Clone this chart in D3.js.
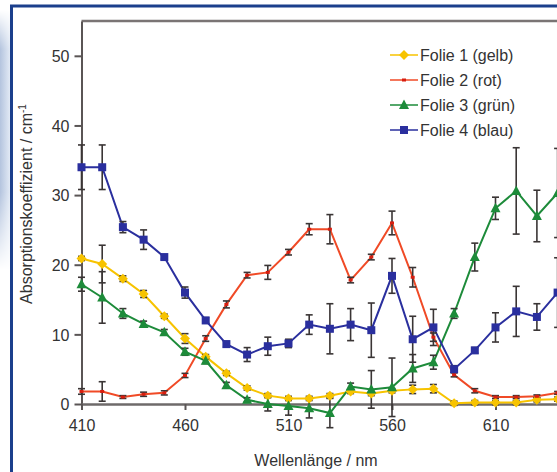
<!DOCTYPE html>
<html><head><meta charset="utf-8">
<script src="https://cdn.jsdelivr.net/npm/d3@7"></script>
<style>html,body{margin:0;padding:0;background:#fff;overflow:hidden}svg{display:block}</style>
</head><body>
<svg id="c" width="557" height="472"></svg>
<script>
const wavelengths = [410,420,430,440,450,460,470,480,490,500,510,520,530,540,550,560,570,580,590,600,610,620,630,640];
const folie1 = [20.9,20.1,18.0,15.8,12.6,9.4,6.8,4.4,2.3,1.2,0.8,0.8,1.2,1.8,1.5,1.9,2.1,2.2,0.1,0.2,0.2,0.2,0.6,0.7];
const folie1Err = [0.3,2.7,0.4,0.5,0.3,0.7,0.3,0.3,0.3,0.3,0.3,0.3,0.3,0.3,0.3,0.3,0.6,0.6,0.3,0.3,0.3,0.3,0.3,0.3];
const folie2 = [1.8,1.8,1.0,1.4,1.6,4.1,9.4,14.3,18.5,18.9,21.8,25.1,25.1,17.8,21.1,26.0,18.2,9.6,4.2,1.9,1.0,1.0,1.1,1.6];
const folie2Err = [0.4,1.4,0.2,0.3,0.3,0.3,0.4,0.5,0.4,1.0,0.4,0.8,2.1,0.4,0.4,1.7,1.4,0.6,0.3,0.3,0.2,0.2,0.2,0.2];
const folie3 = [17.2,15.3,13.0,11.5,10.3,7.5,6.2,2.7,0.6,0.0,-0.3,-0.6,-1.3,2.5,2.1,2.4,5.1,6.0,13.0,21.1,28.1,30.6,27.0,30.3];
const folie3Err = [1.0,3.7,0.7,0.4,0.4,0.5,0.4,0.4,0.3,1.0,1.3,1.4,2.1,0.5,2.7,4.2,2.0,1.0,0.7,2.0,1.6,6.2,3.7,6.4];
const folie4 = [34.0,34.0,25.4,23.6,21.1,16.0,12.0,8.6,7.1,8.3,8.7,11.4,10.8,11.4,10.6,18.4,9.3,11.0,5.0,7.7,11.0,13.3,12.5,16.0];
const folie4Err = [3.2,3.2,0.8,1.4,0.3,0.8,0.4,0.4,1.0,1.3,0.6,1.4,3.6,2.3,3.9,2.5,3.3,2.6,0.5,0.4,2.1,3.6,1.9,5.0];
const seriesNames = ["Folie 1 (gelb)","Folie 2 (rot)","Folie 3 (grün)","Folie 4 (blau)"];
const xTicks = [410,460,510,560,610];
const yTicks = [0,10,20,30,40,50];

const series = [
  {name:seriesNames[0], vals:folie1, err:folie1Err, color:"#f7c300", marker:"diamond"},
  {name:seriesNames[1], vals:folie2, err:folie2Err, color:"#f04a26", marker:"dash"},
  {name:seriesNames[2], vals:folie3, err:folie3Err, color:"#1d8b3a", marker:"triangle"},
  {name:seriesNames[3], vals:folie4, err:folie4Err, color:"#2a2f9e", marker:"square"}
];

const svg = d3.select("#c");
const font = "'Liberation Sans', Arial, Helvetica, sans-serif";

// decoration: left pale shade and blue frame
const defs = svg.append("defs");
const g1 = defs.append("linearGradient").attr("id","shade").attr("x1",0).attr("x2",1).attr("y1",0).attr("y2",0);
g1.append("stop").attr("offset","0").attr("stop-color","#b4c4de");
g1.append("stop").attr("offset","1").attr("stop-color","#e6edf7");
const g2 = defs.append("linearGradient").attr("id","fadev").attr("x1",0).attr("x2",0).attr("y1",0).attr("y2",1);
g2.append("stop").attr("offset","0").attr("stop-color","#fff").attr("stop-opacity",0);
g2.append("stop").attr("offset","0.15").attr("stop-color","#fff").attr("stop-opacity",1);
g2.append("stop").attr("offset","0.7").attr("stop-color","#fff").attr("stop-opacity",1);
g2.append("stop").attr("offset","1").attr("stop-color","#fff").attr("stop-opacity",0);
const mask = defs.append("mask").attr("id","m");
mask.append("rect").attr("x",0).attr("y",10).attr("width",12).attr("height",260).attr("fill","url(#fadev)");
svg.append("rect").attr("x",0).attr("y",10).attr("width",11).attr("height",260).attr("fill","url(#shade)").attr("mask","url(#m)");
svg.append("path").attr("d","M11.5,472 L11.5,6 L557,6").attr("fill","none").attr("stroke","#1b3f8c").attr("stroke-width",3);

const x = d3.scaleLinear().domain([410,660]).range([81.5,599]);
const y = d3.scaleLinear().domain([0,55]).range([404,21]);

// top frame line
svg.append("line").attr("x1",81.5).attr("x2",557).attr("y1",y(55)).attr("y2",y(55)).attr("stroke","#7a7474").attr("stroke-width",2.5);

// y axis
const yAx = svg.append("g").attr("transform","translate(81.5,0)")
  .call(d3.axisLeft(y).tickValues(yTicks).tickSize(7).tickPadding(5).tickSizeOuter(0));
yAx.select(".domain").attr("stroke","#5a5555").attr("stroke-width",2);
yAx.selectAll(".tick line").attr("stroke","#5a5555").attr("stroke-width",2);
yAx.selectAll("text").attr("font-family",font).attr("font-size",16).attr("fill","#333").attr("dy","0.36em");

// x axis
const xAx = svg.append("g").attr("transform","translate(0,404)")
  .call(d3.axisBottom(x).tickValues(xTicks).tickSize(6).tickPadding(10).tickSizeOuter(0).tickFormat(d3.format("d")));
xAx.select(".domain").attr("stroke","#6e6a6a").attr("stroke-width",2.5);
xAx.selectAll(".tick line").attr("stroke","#5a5555").attr("stroke-width",2);
xAx.selectAll("text").attr("font-family",font).attr("font-size",16).attr("fill","#333");

// axis titles
svg.append("text").attr("x",316).attr("y",466).attr("text-anchor","middle")
  .attr("font-family",font).attr("font-size",16).attr("fill","#333").text("Wellenlänge / nm");
const yt = svg.append("text").attr("transform","translate(32,204) rotate(-90)").attr("text-anchor","middle")
  .attr("font-family",font).attr("font-size",16).attr("fill","#333");
yt.append("tspan").text("Absorptionskoeffizient / cm");
yt.append("tspan").attr("dy",-6).attr("font-size",10).text("-1");

// lines
const line = d3.line().x((d,i)=>x(wavelengths[i])).y(d=>y(d));
series.forEach(s=>{
  svg.append("path").datum(s.vals).attr("d",line).attr("fill","none")
    .attr("stroke",s.color).attr("stroke-width",2);
});

// error bars
series.forEach(s=>{
  const g = svg.append("g").attr("stroke","#3a3535").attr("stroke-width",1.6);
  s.vals.forEach((v,i)=>{
    const cx = x(wavelengths[i]), y1 = y(v+s.err[i]), y2 = y(v-s.err[i]);
    g.append("line").attr("x1",cx).attr("x2",cx).attr("y1",y1).attr("y2",y2);
    g.append("line").attr("x1",cx-3.5).attr("x2",cx+3.5).attr("y1",y1).attr("y2",y1);
    g.append("line").attr("x1",cx-3.5).attr("x2",cx+3.5).attr("y1",y2).attr("y2",y2);
  });
});

function drawMarker(g, type, cx, cy, color){
  if(type==="diamond"){
    g.append("path").attr("d",`M${cx},${cy-5}L${cx+5},${cy}L${cx},${cy+5}L${cx-5},${cy}Z`).attr("fill",color);
  } else if(type==="square"){
    g.append("rect").attr("x",cx-4).attr("y",cy-4).attr("width",8).attr("height",8).attr("fill",color);
  } else if(type==="triangle"){
    g.append("path").attr("d",`M${cx},${cy-5.5}L${cx+5},${cy+4}L${cx-5},${cy+4}Z`).attr("fill",color);
  } else {
    g.append("rect").attr("x",cx-2).attr("y",cy-1.5).attr("width",4).attr("height",3).attr("fill","#d81e10");
  }
}

series.forEach(s=>{
  const g = svg.append("g");
  s.vals.forEach((v,i)=>drawMarker(g, s.marker, x(wavelengths[i]), y(v), s.color));
});

// legend
const leg = svg.append("g");
series.forEach((s,i)=>{
  const ly = 55 + i*25;
  leg.append("line").attr("x1",390).attr("x2",418).attr("y1",ly).attr("y2",ly).attr("stroke",s.color).attr("stroke-width",1.5);
  drawMarker(leg, s.marker, 404, ly, s.color);
  leg.append("text").attr("x",420).attr("y",ly).attr("dy","0.36em").attr("font-family",font)
    .attr("font-size",16).attr("fill","#333").text(s.name);
});
</script>
</body></html>
